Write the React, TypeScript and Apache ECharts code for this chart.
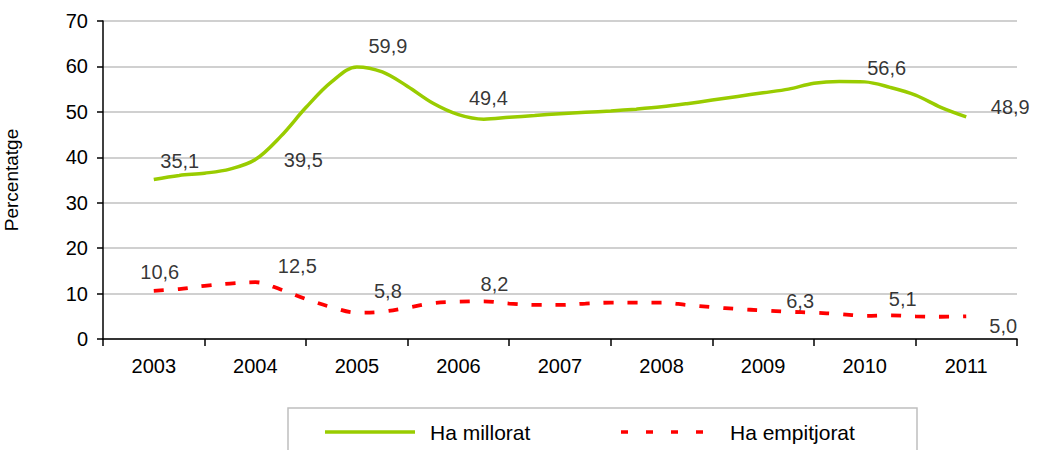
import React, { useEffect, useRef } from "react";
import * as echarts from "echarts";

const years = ["2003", "2004", "2005", "2006", "2007", "2008", "2009", "2010", "2011"];
const yTicks = [0, 10, 20, 30, 40, 50, 60, 70];
const seriesNames = ["Ha millorat", "Ha empitjorat"];

// Quarterly values, 2003 Q1 .. 2011 Q1
const millorat = [35.1, 36.0, 36.5, 37.4, 39.5, 44.6, 51.0, 56.6, 59.9, 58.8, 55.6, 51.9, 49.4, 48.4, 48.8, 49.2, 49.6, 49.9, 50.2, 50.6, 51.1, 51.8, 52.6, 53.4, 54.2, 55.0, 56.3, 56.7, 56.6, 55.4, 53.7, 51.0, 48.9];
const empitjorat = [10.6, 11.0, 11.7, 12.2, 12.5, 10.9, 8.8, 7.0, 5.8, 6.0, 6.9, 7.9, 8.2, 8.3, 7.8, 7.5, 7.5, 7.8, 8.0, 8.0, 8.0, 7.5, 7.0, 6.6, 6.3, 6.0, 5.8, 5.5, 5.1, 5.2, 5.0, 4.9, 5.0];

const milloratLabelIdx = [0, 4, 8, 12, 28, 32];
const empitjoratLabelIdx = [0, 4, 8, 12, 24, 28, 32];

// label offsets (layout only)
const milloratLabelOffsets = [[26, -19], [48, 0], [31, -21], [30, -17], [22, -14], [44, -10]];
const empitjoratLabelOffsets = [[6, -19], [42, -16], [31, -22], [36, -18], [37, -9], [38, -17], [37, 10]];

const GREEN = "#99cc00";
const RED = "#ff0000";
const FONT = "'Liberation Sans', Arial, sans-serif";
const FS = 20;
const fmt = (v: number) => v.toFixed(1).replace(".", ",");
const xOf = (i: number) => Number(years[0]) + i / 4;

export default function App() {
  const ref = useRef<HTMLDivElement>(null);
  useEffect(() => {
    if (!ref.current) return;
    const chart = echarts.init(ref.current, undefined, { renderer: "svg" });
    const labelSeries = (vals: number[], idx: number[], offs: number[][], name: string) => ({
      type: "scatter",
      name,
      xAxisIndex: 1,
      silent: true,
      symbolSize: 1,
      itemStyle: { color: "transparent" },
      z: 5,
      data: idx.map((i, k) => ({
        value: [xOf(i), vals[i]],
        label: {
          show: true,
          position: "inside",
          offset: offs[k],
          formatter: fmt(vals[i]),
          color: "#000",
          fontSize: FS,
          fontFamily: FONT,
        },
      })),
    });
    chart.setOption({
      animation: false,
      backgroundColor: "#fff",
      textStyle: { fontFamily: FONT },
      grid: { left: 103, right: 20, top: 21, bottom: 111, containLabel: false, outerBoundsMode: "none" },
      graphic: [
        {
          type: "rect",
          shape: { x: 288, y: 408, width: 629, height: 70 },
          style: { fill: "#fff", stroke: "#bfbfbf", lineWidth: 1.5 },
          silent: true,
        },
        {
          type: "line",
          shape: { x1: 325, y1: 432, x2: 415, y2: 432 },
          style: { stroke: GREEN, lineWidth: 3.5 },
          silent: true,
        },
        {
          type: "text",
          x: 430,
          y: 432,
          style: { text: seriesNames[0], fill: "#000", fontSize: 21, fontFamily: FONT, verticalAlign: "middle" },
          silent: true,
        },
        {
          type: "line",
          shape: { x1: 621, y1: 432, x2: 716, y2: 432 },
          style: { stroke: RED, lineWidth: 3.5, lineDash: [7, 18] },
          silent: true,
        },
        {
          type: "text",
          x: 730,
          y: 432,
          style: { text: seriesNames[1], fill: "#000", fontSize: 21, fontFamily: FONT, verticalAlign: "middle" },
          silent: true,
        },
      ],
      xAxis: [
        {
          type: "category",
          data: years,
          boundaryGap: true,
          axisLine: { lineStyle: { color: "#000", width: 1.5 } },
          axisTick: { show: true, length: 7, lineStyle: { color: "#000", width: 1.5 } },
          axisLabel: { color: "#000", fontSize: FS, margin: 17, fontFamily: FONT },
          splitLine: { show: false },
        },
        {
          type: "value",
          min: 2002.5,
          max: 2011.5,
          show: false,
          splitLine: { show: false },
        },
      ],
      yAxis: {
        type: "value",
        min: yTicks[0],
        max: yTicks[yTicks.length - 1],
        interval: 10,
        name: "Percentatge",
        nameLocation: "middle",
        nameGap: 82,
        nameTextStyle: { fontSize: 19, color: "#000", fontFamily: FONT },
        axisLine: { show: true, lineStyle: { color: "#000", width: 1.5 } },
        axisTick: { show: true, length: 6, lineStyle: { color: "#000", width: 1.5 } },
        axisLabel: { color: "#000", fontSize: FS, margin: 15, fontFamily: FONT },
        splitLine: { show: true, lineStyle: { color: "#c0c0c0", width: 1.5 } },
      },
      series: [
        {
          type: "line",
          name: seriesNames[0],
          xAxisIndex: 1,
          smooth: 0.35,
          symbol: "none",
          lineStyle: { color: GREEN, width: 3.5 },
          itemStyle: { color: GREEN },
          data: millorat.map((v, i) => [xOf(i), v]),
        },
        {
          type: "line",
          name: seriesNames[1],
          xAxisIndex: 1,
          smooth: 0.35,
          symbol: "none",
          lineStyle: { color: RED, width: 3.8, type: [10, 14] },
          itemStyle: { color: RED },
          data: empitjorat.map((v, i) => [xOf(i), v]),
        },
        labelSeries(millorat, milloratLabelIdx, milloratLabelOffsets, "lbl1"),
        labelSeries(empitjorat, empitjoratLabelIdx, empitjoratLabelOffsets, "lbl2"),
      ],
    });
    return () => chart.dispose();
  }, []);
  return (
    <div
      ref={ref}
      style={{ position: "fixed", left: 0, top: 0, width: 1037, height: 450, background: "#fff" }}
    />
  );
}
